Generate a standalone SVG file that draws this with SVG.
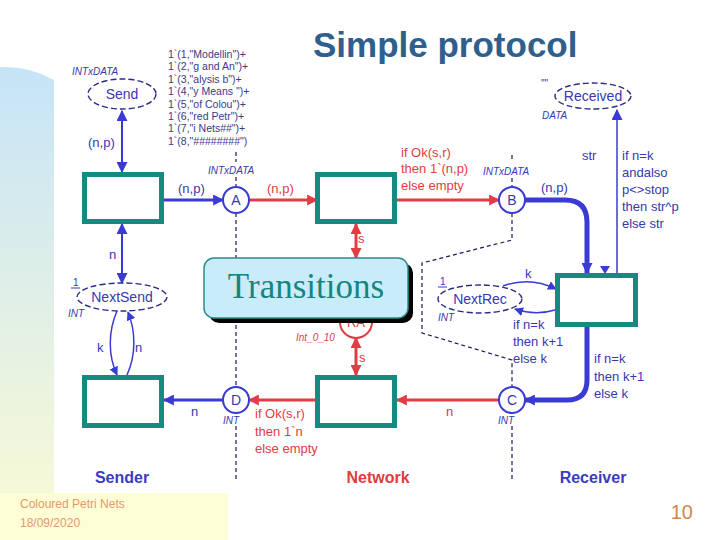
<svg xmlns="http://www.w3.org/2000/svg" width="720" height="540" viewBox="0 0 720 540">
<defs>
<linearGradient id="strip" x1="0" y1="0" x2="0" y2="1">
<stop offset="0" stop-color="#c6e4f8"/>
<stop offset="1" stop-color="#fbfbd4"/>
</linearGradient>
<marker id="ab" viewBox="0 0 10 10" refX="9" refY="5" markerWidth="11" markerHeight="11" markerUnits="userSpaceOnUse" orient="auto-start-reverse"><path d="M0,0 L10,5 L0,10 z" fill="#3a3ad4"/></marker>
<marker id="ar" viewBox="0 0 10 10" refX="9" refY="5" markerWidth="11" markerHeight="11" markerUnits="userSpaceOnUse" orient="auto-start-reverse"><path d="M0,0 L10,5 L0,10 z" fill="#e33c44"/></marker>
<marker id="abs" viewBox="0 0 10 10" refX="9" refY="5" markerWidth="9" markerHeight="9" markerUnits="userSpaceOnUse" orient="auto-start-reverse"><path d="M0,0 L10,5 L0,10 z" fill="#3a3ad4"/></marker>
<style>
text{font-family:"Liberation Sans",Arial,sans-serif}
.box{fill:#fff;stroke:#168a80;stroke-width:5}
.pl{fill:#fff;stroke:#2a2a88;stroke-width:1.4;stroke-dasharray:6 3}
.cir{fill:#fff;stroke:#3a3ad4;stroke-width:2}
.bl{stroke:#3a3ad4;fill:none}
.rd{stroke:#e33c44;fill:none;stroke-width:3}
.dash{stroke:#1a1a5e;stroke-width:1.2;fill:none;stroke-dasharray:4 3}
.lb{fill:#3838b0;font-size:13px}
.lr{fill:#e03c44;font-size:13px}
.ty{fill:#3838b0;font-size:10px;font-style:italic}
.nm{fill:#3838b0;font-size:14px;text-anchor:middle}
.tok{fill:#3a3a88;font-size:10.5px}
.hd{font-size:16px;font-weight:bold;text-anchor:middle}
</style>
</defs>
<rect width="720" height="540" fill="#fff"/>
<path d="M0,540 V67 Q30,66 54,80 V540 Z" fill="url(#strip)"/>
<rect x="0" y="493" width="228" height="47" fill="#fdfdd6"/>

<text x="313" y="57" font-size="35" font-weight="bold" fill="#2f5f8c">Simple protocol</text>

<g id="dashes">
<path class="dash" d="M236,152 V162 M236,177 V187 M236,213 V387 M236,426 V480"/>
<path class="dash" d="M512,155 V162 M512,178 V187 M512,213 V240 L422,263 V333 L512,360 V387 M512,426 V480"/>
</g>

<g id="RA">
<circle cx="356" cy="322" r="16" fill="#fff" stroke="#e03c44" stroke-width="2"/>
<text x="356" y="327" text-anchor="middle" font-size="13" fill="#e03c44">RA</text>
<text x="296" y="341" class="ty" style="fill:#e03c44">Int_0_10</text>
</g>

<g id="connectors">
<path class="bl" stroke-width="2" d="M122,111 V172" marker-start="url(#ab)" marker-end="url(#ab)"/>
<path class="bl" stroke-width="2" d="M122,224 V283" marker-start="url(#ab)" marker-end="url(#ab)"/>
<path class="bl" stroke-width="1.5" d="M117,311 C108,332 108,355 117,375" marker-end="url(#abs)"/>
<path class="bl" stroke-width="1.5" d="M127,375 C136,355 136,332 128,312" marker-end="url(#abs)"/>
<path class="bl" stroke-width="3" d="M164,200 H223" marker-end="url(#ab)"/>
<path class="rd" d="M249,200 H317" marker-end="url(#ar)"/>
<path class="rd" d="M397,200 H499" marker-end="url(#ar)"/>
<path class="bl" stroke-width="5" d="M525,200 H565 Q587,200 587,222 V273" marker-end="url(#ab)"/>
<path class="bl" stroke-width="1.5" d="M617,273 V110" marker-end="url(#ab)"/>
<path d="M600,266 L610,266 L605,274 z" fill="#3a3ad4"/>
<path class="bl" stroke-width="1.5" d="M503,286 Q530,276 556,289" marker-end="url(#abs)"/>
<path class="bl" stroke-width="1.5" d="M555,310 Q535,316 515,309" marker-end="url(#abs)"/>
<path class="bl" stroke-width="5" d="M587,327 V380 Q587,400 567,400 H525" marker-end="url(#ab)"/>
<path class="rd" d="M499,400 H397" marker-end="url(#ar)"/>
<path class="rd" d="M317,400 H249" marker-end="url(#ar)"/>
<path class="bl" stroke-width="3" d="M223,400 H164" marker-end="url(#ab)"/>
<path class="rd" d="M356,224 V258" marker-start="url(#ar)" marker-end="url(#ar)"/>
<path class="rd" d="M356,338 V375" marker-start="url(#ar)" marker-end="url(#ar)"/>
</g>

<g id="labels">
<text x="88" y="147" class="lb">(n,p)</text>
<text x="109" y="259" class="lb">n</text>
<text x="97" y="352" class="lb">k</text>
<text x="135" y="352" class="lb">n</text>
<text x="178" y="193" class="lb">(n,p)</text>
<text x="267" y="193" class="lr">(n,p)</text>
<text x="401" y="157" class="lr">if Ok(s,r)</text>
<text x="401" y="173" class="lr">then 1`(n,p)</text>
<text x="401" y="190" class="lr">else empty</text>
<text x="541" y="192" class="lb">(n,p)</text>
<text x="582" y="160" class="lb">str</text>
<text x="622" y="160" class="lb">if n=k</text>
<text x="622" y="177" class="lb">andalso</text>
<text x="622" y="194" class="lb">p&lt;&gt;stop</text>
<text x="622" y="211" class="lb">then str^p</text>
<text x="622" y="228" class="lb">else str</text>
<text x="358" y="243" class="lr">s</text>
<text x="359" y="362" class="lr">s</text>
<text x="525" y="278" class="lb">k</text>
<text x="513" y="329" class="lb">if n=k</text>
<text x="513" y="346" class="lb">then k+1</text>
<text x="513" y="363" class="lb">else k</text>
<text x="594" y="363" class="lb">if n=k</text>
<text x="594" y="381" class="lb">then k+1</text>
<text x="594" y="398" class="lb">else k</text>
<text x="191" y="416" class="lb">n</text>
<text x="255" y="418" class="lr">if Ok(s,r)</text>
<text x="255" y="436" class="lr">then 1`n</text>
<text x="255" y="453" class="lr">else empty</text>
<text x="446" y="416" class="lr">n</text>
</g>

<g id="tokens">
<text x="168" y="58" class="tok">1`(1,"Modellin")+</text>
<text x="168" y="70.4" class="tok">1`(2,"g and An")+</text>
<text x="168" y="82.8" class="tok">1`(3,"alysis b")+</text>
<text x="168" y="95.2" class="tok">1`(4,"y Means ")+</text>
<text x="168" y="107.6" class="tok">1`(5,"of Colou")+</text>
<text x="168" y="120" class="tok">1`(6,"red Petr")+</text>
<text x="168" y="132.4" class="tok">1`(7,"i Nets##")+</text>
<text x="168" y="144.8" class="tok">1`(8,"########")</text>
</g>

<g id="Send">
<ellipse cx="122" cy="94" rx="34" ry="15" class="pl"/>
<text x="122" y="99" class="nm">Send</text>
<text x="72" y="75" class="ty">INTxDATA</text>
</g>
<g id="Received">
<ellipse cx="593" cy="96" rx="38" ry="13" class="pl"/>
<text x="593" y="101" class="nm">Received</text>
<text x="541" y="87" class="ty" style="font-style:normal">""</text>
<text x="542" y="119" class="ty">DATA</text>
</g>
<g id="NextSend">
<ellipse cx="122" cy="297" rx="45" ry="14" class="pl"/>
<text x="122" y="302" class="nm">NextSend</text>
<text x="73" y="286" class="ty" style="font-style:normal">1</text>
<line x1="71" y1="288" x2="80" y2="288" stroke="#3838b0" stroke-width="1"/>
<text x="68" y="317" class="ty">INT</text>
</g>
<g id="NextRec">
<ellipse cx="480" cy="299" rx="42" ry="14" class="pl"/>
<text x="480" y="304" class="nm">NextRec</text>
<text x="440" y="285" class="ty" style="font-style:normal">1</text>
<line x1="438" y1="287" x2="447" y2="287" stroke="#3838b0" stroke-width="1"/>
<text x="438" y="321" class="ty">INT</text>
</g>
<g id="A">
<circle cx="236" cy="200" r="13" class="cir"/>
<text x="236" y="205" class="nm">A</text>
<text x="208" y="174" class="ty">INTxDATA</text>
</g>
<g id="B">
<circle cx="512" cy="200" r="13" class="cir"/>
<text x="512" y="205" class="nm">B</text>
<text x="483" y="175" class="ty">INTxDATA</text>
</g>
<g id="C">
<circle cx="512" cy="400" r="13" class="cir"/>
<text x="512" y="405" class="nm">C</text>
<text x="498" y="424" class="ty">INT</text>
</g>
<g id="D">
<circle cx="236" cy="400" r="13" class="cir"/>
<text x="236" y="405" class="nm">D</text>
<text x="223" y="424" class="ty">INT</text>
</g>

<g id="SendPacket"><rect x="84.5" y="174.5" width="77" height="47" class="box"/></g>
<g id="TransmitPacket"><rect x="317.5" y="174.5" width="77" height="47" class="box"/></g>
<g id="ReceivePacket"><rect x="557.5" y="275.5" width="78" height="49" class="box"/></g>
<g id="ReceiveAck"><rect x="84.5" y="377.5" width="77" height="48" class="box"/></g>
<g id="TransmitAck"><rect x="317.5" y="377.5" width="77" height="48" class="box"/></g>

<g id="Transitions">
<rect x="209" y="263" width="204" height="60" rx="10" fill="#000"/>
<rect x="204" y="258" width="204" height="60" rx="10" fill="#c9ecfb" stroke="#2b8c8c" stroke-width="1.5"/>
<text x="306" y="298" text-anchor="middle" font-size="35" fill="#15857f" style="font-family:'Liberation Serif','Times New Roman',serif">Transitions</text>
</g>

<g id="sections">
<text x="122" y="483" class="hd" fill="#3b3bc0">Sender</text>
<text x="378" y="483" class="hd" fill="#e03c44">Network</text>
<text x="593" y="483" class="hd" fill="#3b3bc0">Receiver</text>
</g>

<g id="footer">
<text x="20" y="508" font-size="12" fill="#e49a6a">Coloured Petri Nets</text>
<text x="20" y="527" font-size="12" fill="#e49a6a">18/09/2020</text>
<text x="693" y="519" font-size="20" fill="#d4864a" text-anchor="end">10</text>
</g>
</svg>
